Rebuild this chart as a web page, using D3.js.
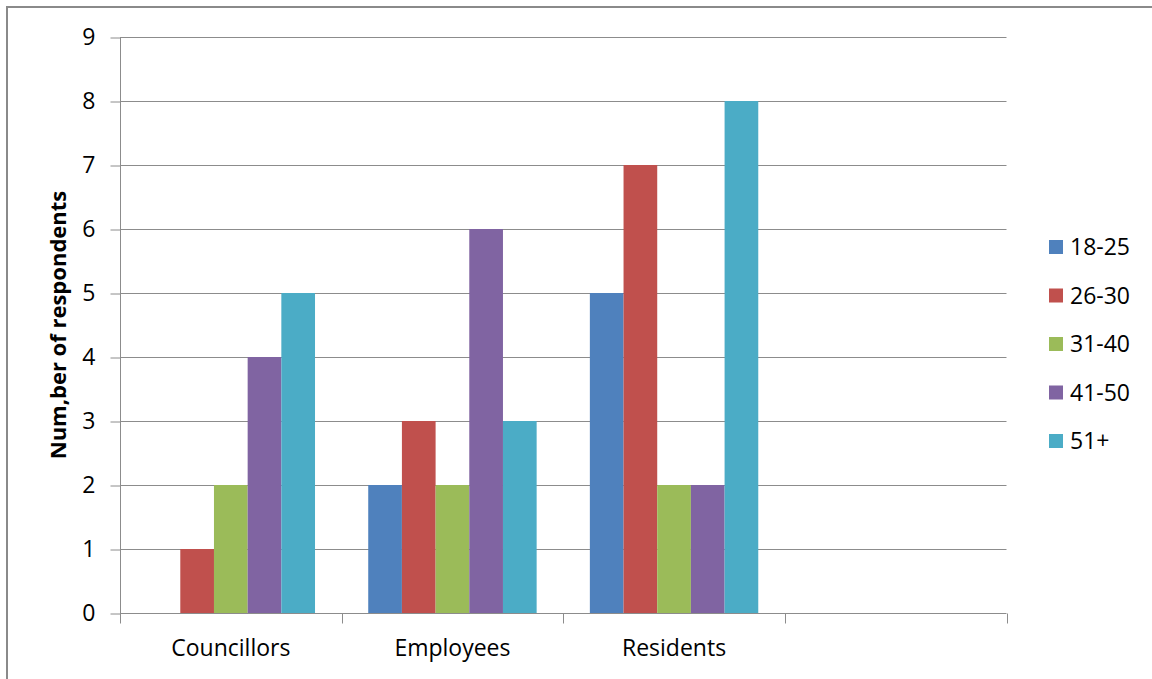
<!DOCTYPE html>
<html><head><meta charset="utf-8">
<script src="https://cdn.jsdelivr.net/npm/d3@7"></script>
<style>
html,body{margin:0;padding:0;background:#fff;}
svg{display:block;}
text{font-family:"Open Sans",sans-serif;fill:#000;}
</style></head>
<body>
<svg id="chart" width="1152" height="679"></svg>
<script>
const categories = ["Councillors", "Employees", "Residents", ""];
const seriesNames = ["18-25", "26-30", "31-40", "41-50", "51+"];
const s1825 = [0, 2, 5, null];
const s2630 = [1, 3, 7, null];
const s3140 = [2, 2, 2, null];
const s4150 = [4, 6, 2, null];
const s51 = [5, 3, 8, null];
const yTicks = [0,1,2,3,4,5,6,7,8,9];
const colors = ["#4F81BD", "#C0504D", "#9BBB59", "#8064A2", "#4BACC6"];
const seriesValues = [s1825, s2630, s3140, s4150, s51];

(function () {
const FONT = "'Open Sans', sans-serif";
const FS = 23;
const svg = d3.select("#chart");
svg.append("rect").attr("x", 7).attr("y", 7).attr("width", 1160).attr("height", 690)
  .attr("fill", "none").attr("stroke", "#8a8a8a").attr("stroke-width", 2);

const pLeft = 120, pRight = 1006.5, pTop = 37, pBottom = 613;
const x = d3.scaleBand().domain(d3.range(categories.length)).range([pLeft, pRight]).padding(0);
const xi = d3.scaleBand().domain(d3.range(seriesNames.length)).range([0, x.bandwidth()]).paddingInner(0).paddingOuter(0.79);
const y = d3.scaleLinear().domain([0, 9]).range([pBottom, pTop]);

svg.append("g").selectAll("line").data(yTicks.filter(t => t > 0)).join("line")
  .attr("x1", pLeft).attr("x2", pRight)
  .attr("y1", d => y(d) + 0.5).attr("y2", d => y(d) + 0.5)
  .attr("stroke", "#8c8c8c").attr("stroke-width", 1);

const data = [];
seriesValues.forEach((vals, si) => vals.forEach((v, ci) => { if (v != null && v > 0) data.push({ si, ci, v }); }));
svg.append("g").selectAll("rect").data(data).join("rect")
  .attr("x", d => x(d.ci) + xi(d.si))
  .attr("width", xi.bandwidth())
  .attr("y", d => y(d.v))
  .attr("height", d => y(0) - y(d.v))
  .attr("fill", d => colors[d.si]);

const yAxis = d3.axisLeft(y).tickValues(yTicks).tickSize(10).tickPadding(15).tickFormat(d3.format("d"));
const gy = svg.append("g").attr("transform", `translate(${pLeft + 0.5},0)`).call(yAxis);
gy.select(".domain").attr("stroke", "#8c8c8c").attr("d", `M0,${pTop}V${pBottom}`);
gy.selectAll(".tick line").attr("stroke", "#8c8c8c").attr("transform", "translate(0,0.5)");
gy.selectAll(".tick text").attr("font-size", FS).attr("fill", "#000").attr("font-family", FONT);

const gx = svg.append("g").attr("transform", `translate(0,${pBottom + 0.5})`);
gx.append("line").attr("x1", pLeft).attr("x2", pRight).attr("stroke", "#8c8c8c");
const bounds = d3.range(categories.length + 1).map(i => i < categories.length ? x(i) : pRight);
gx.selectAll("line.tk").data(bounds).join("line").attr("class", "tk")
  .attr("x1", d => Math.round(d) + 0.5).attr("x2", d => Math.round(d) + 0.5)
  .attr("y1", 0).attr("y2", 10).attr("stroke", "#8c8c8c");
gx.selectAll("text").data(categories).join("text")
  .attr("x", (d, i) => x(i) + x.bandwidth() / 2)
  .attr("y", 42).attr("text-anchor", "middle").attr("font-size", FS).text(d => d);

svg.append("text").attr("transform", "translate(66,325) rotate(-90)")
  .attr("text-anchor", "middle").attr("font-size", 22).attr("font-weight", "bold")
  .text("Num,ber of respondents");

const legend = svg.append("g").selectAll("g").data(seriesNames).join("g")
  .attr("transform", (d, i) => `translate(1049,${247 + i * 48.5})`);
legend.append("rect").attr("x", 0).attr("y", -7).attr("width", 14).attr("height", 14)
  .attr("fill", (d, i) => colors[i]);
legend.append("text").attr("x", 21).attr("y", 8).attr("font-size", FS).text(d => d);
})();
</script>
</body></html>
